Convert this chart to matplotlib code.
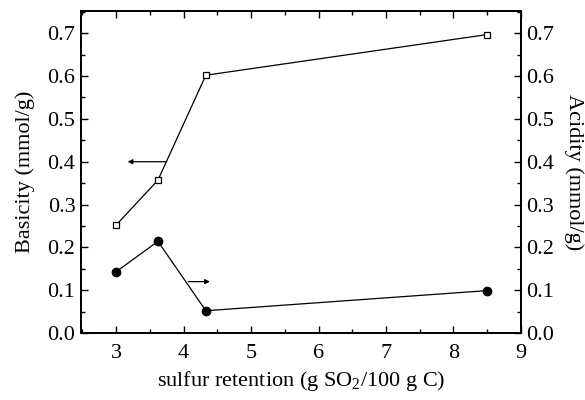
import matplotlib
matplotlib.use("Agg")
import matplotlib.pyplot as plt
from matplotlib.ticker import MultipleLocator

plt.rcParams['font.family'] = ['Liberation Serif', 'DejaVu Serif']
plt.rcParams['mathtext.fontset'] = 'custom'
plt.rcParams['mathtext.rm'] = 'Liberation Serif'

sulfur = [3.0, 3.62, 4.33, 8.5]
basicity = [0.252, 0.357, 0.602, 0.697]
acidity = [0.143, 0.214, 0.052, 0.099]

fig = plt.figure(figsize=(5.85, 4.0), dpi=100)
ax = fig.add_axes([0.1385, 0.1675, 0.752, 0.805])
ax.plot(sulfur, basicity, color='black', lw=0.9, marker='s', ms=5,
        mfc='white', mec='black', mew=0.9)
ax2 = ax.twinx()
ax2.plot(sulfur, acidity, color='black', lw=0.9, marker='o', ms=6,
         mfc='black', mec='black')

for a in (ax, ax2):
    a.set_xlim(2.48, 9.0)
    a.set_ylim(0.0, 0.752)
    a.yaxis.set_major_locator(MultipleLocator(0.1))
    a.yaxis.set_minor_locator(MultipleLocator(0.05))
    a.yaxis.set_major_formatter(matplotlib.ticker.FormatStrFormatter('%.1f'))
    a.tick_params(which='both', direction='in', labelsize=16, width=1)
    a.tick_params(which='major', length=5)
    a.tick_params(which='minor', length=3)
    for s in a.spines.values():
        s.set_linewidth(1.3)

ax.xaxis.set_major_locator(MultipleLocator(1))
ax.xaxis.set_minor_locator(MultipleLocator(0.5))
ax.tick_params(which='both', top=True)
ax.tick_params(axis='x', pad=8)
ax.tick_params(axis='y', pad=4)
ax2.tick_params(axis='y', pad=4)

ax.set_xlabel('sulfur retention (g SO$_2$/100 g C)', fontsize=16, labelpad=4)
ax.set_ylabel('Basicity (mmol/g)', fontsize=16, labelpad=9)
ax2.set_ylabel('Acidity (mmol/g)', fontsize=16, rotation=270, labelpad=21)

ax.annotate('', xy=(3.17, 0.40), xytext=(3.75, 0.40),
            arrowprops=dict(arrowstyle='-|>', color='black', lw=0.9,
                            mutation_scale=7, shrinkA=0, shrinkB=0))
ax.annotate('', xy=(4.39, 0.12), xytext=(4.07, 0.12),
            arrowprops=dict(arrowstyle='-|>', color='black', lw=0.9,
                            mutation_scale=7, shrinkA=0, shrinkB=0))

fig.savefig('out.png', dpi=100)
